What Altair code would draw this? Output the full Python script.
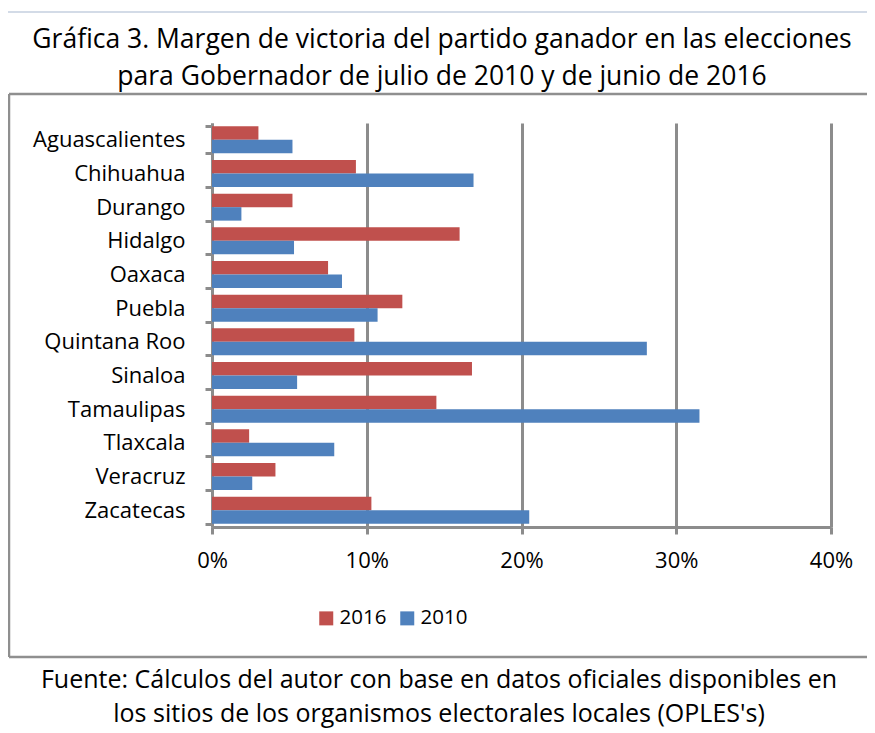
import altair as alt
import pandas as pd

estados = ["Aguascalientes", "Chihuahua", "Durango", "Hidalgo", "Oaxaca", "Puebla",
           "Quintana Roo", "Sinaloa", "Tamaulipas", "Tlaxcala", "Veracruz", "Zacatecas"]
margen_2016 = [3.0, 9.3, 5.2, 16.0, 7.5, 12.3, 9.2, 16.8, 14.5, 2.4, 4.1, 10.3]
margen_2010 = [5.2, 16.9, 1.9, 5.3, 8.4, 10.7, 28.1, 5.5, 31.5, 7.9, 2.6, 20.5]
series = ["2016", "2010"]
colores = ["#c0504d", "#4f81bd"]
x_ticks = [0, 0.1, 0.2, 0.3, 0.4]

titulo = ["Gráfica 3. Margen de victoria del partido ganador en las elecciones",
          "para Gobernador de julio de 2010 y de junio de 2016"]
fuente = ["Fuente: Cálculos del autor con base en datos oficiales disponibles en",
          "los sitios de los organismos electorales locales (OPLES's)"]

FONT = "Open Sans"
W, H = 619, 404

rows = []
for e, a, b in zip(estados, margen_2016, margen_2010):
    rows.append({"estado": e, "serie": "2016", "valor": a / 100})
    rows.append({"estado": e, "serie": "2010", "valor": b / 100})
df = pd.DataFrame(rows)

bars = alt.Chart(df).mark_bar().encode(
    y=alt.Y("estado:N", sort=estados,
            scale=alt.Scale(paddingInner=0.2, paddingOuter=0.1),
            axis=alt.Axis(title=None, tickBand="extent", domainColor="#8c8c8c",
                          domainWidth=3, tickColor="#8c8c8c", tickWidth=3, tickSize=7,
                          labelFontSize=22, labelFont=FONT, labelColor="black",
                          labelPadding=20, grid=False)),
    yOffset=alt.YOffset("serie:N", sort=series,
                        scale=alt.Scale(paddingInner=0, paddingOuter=0)),
    x=alt.X("valor:Q", scale=alt.Scale(domain=[0, 0.4], nice=False),
            axis=alt.Axis(title=None, format="%", values=x_ticks, grid=True,
                          gridColor="#8c8c8c", gridWidth=3, domainColor="#8c8c8c",
                          domainWidth=3, tickColor="#8c8c8c", tickWidth=3, tickSize=7,
                          labelFontSize=22, labelFont=FONT, labelColor="black",
                          labelFlush=False, labelPadding=16)),
    color=alt.Color("serie:N", sort=series,
                    scale=alt.Scale(domain=series, range=colores),
                    legend=alt.Legend(title=None, orient="none", legendX=104, legendY=485,
                                      direction="horizontal", symbolType="square",
                                      symbolSize=196, symbolStrokeWidth=0,
                                      labelFontSize=20.5, labelFont=FONT, labelColor="black",
                                      columnPadding=10, labelOffset=3, padding=0)),
)

one = pd.DataFrame({"k": [0]})

def hline(y, x1, x2, color, w):
    return alt.Chart(one).mark_rule(color=color, strokeWidth=w).encode(
        x=alt.value(x1), x2=alt.value(x2), y=alt.value(y))

def vline(x, y1, y2, color, w):
    return alt.Chart(one).mark_rule(color=color, strokeWidth=w).encode(
        x=alt.value(x), y=alt.value(y1), y2=alt.value(y2))

LIGHT = "#d3dbe7"
GRAY = "#8f8f8f"
borders = [
    hline(-111, -205, 660, LIGHT, 2),
    vline(-205, -111, -31, LIGHT, 2),
    vline(-205, 537, 612, LIGHT, 2),
    hline(-29, -203, 660, GRAY, 2.5),
    vline(-203, -29, 534, GRAY, 2.5),
    hline(534, -203, 660, GRAY, 2.5),
]

def text_line(s, x, y, size):
    return alt.Chart(pd.DataFrame({"t": [s]})).mark_text(
        font=FONT, fontSize=size, color="black", align="center", baseline="middle"
    ).encode(text="t:N", x=alt.value(x), y=alt.value(y))

texts = [
    text_line(titulo[0], 230, -83, 26.5),
    text_line(titulo[1], 230, -46, 26.5),
    text_line(fuente[0], 227, 557, 25),
    text_line(fuente[1], 227, 591, 25),
]

chart = alt.layer(*borders, bars, *texts).properties(
    width=W, height=H,
    autosize=alt.AutoSizeParams(type="none"),
    padding={"left": 204, "top": 115, "right": 36, "bottom": 206},
    background="white",
).configure_view(strokeWidth=0)

chart.save("out.html", embed_options={"renderer": "svg", "actions": False})
